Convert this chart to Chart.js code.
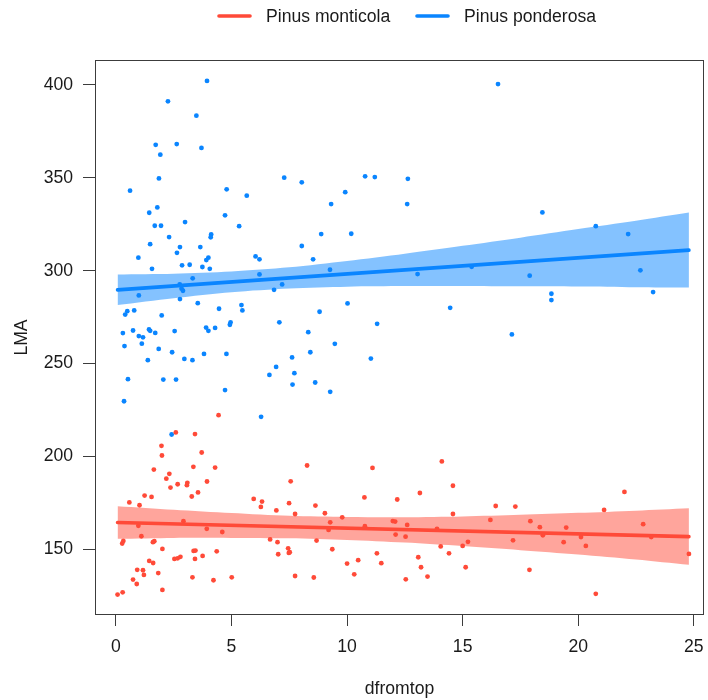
<!DOCTYPE html>
<html>
<head>
<meta charset="utf-8">
<script src="https://cdn.jsdelivr.net/npm/chart.js@4.4.1/dist/chart.umd.min.js"></script>
<style>
  body { margin: 0; background: #fff; }
  canvas { display: block; }
</style>
</head>
<body>
<canvas id="lmaChart" width="708" height="700"></canvas>
<script>
// LMA against distance from the top of the crown, two pine species
const speciesNames = ["Pinus monticola", "Pinus ponderosa"];
const xTicks = [0, 5, 10, 15, 20, 25];
const yTicks = [150, 200, 250, 300, 350, 400];

const ponderosaX = [3.94, 2.25, 3.48, 1.72, 2.63, 3.70, 1.92, 1.86, 7.28, 0.61, 4.79, 5.66, 1.79, 1.44, 4.72, 1.68,
    1.95, 2.99, 5.33, 2.30, 4.12, 4.10, 1.48, 2.77, 3.65, 2.64, 0.97, 4.00, 3.91, 6.04, 6.21, 1.56, 2.86, 3.19, 3.74,
    4.06, 6.21, 3.32, 2.76, 2.84, 2.90, 7.19, 6.84, 0.99, 2.77, 3.54, 5.43, 5.47, 4.46, 0.49, 0.40, 0.79, 1.98, 4.96,
    4.93, 7.07, 0.30, 0.74, 1.43, 1.48, 1.70, 2.54, 3.90, 4.00, 4.29, 0.99, 1.17, 1.12, 0.37, 1.85, 2.43, 3.81, 4.78,
    1.38, 2.96, 3.31, 7.62, 6.93, 7.72, 6.64, 7.64, 0.52, 2.05, 2.60, 4.72, 0.35, 6.28, 2.41, 16.53, 8.04, 10.78, 11.20,
    12.63, 9.92, 9.31, 12.60, 8.88, 10.18, 8.04, 8.53, 9.26, 15.39, 13.05, 10.02, 8.81, 14.46, 11.30, 8.32, 9.47, 8.41,
    11.03, 8.62, 9.27, 18.45, 20.76, 22.16, 17.90, 22.69, 23.24, 18.84, 18.84, 17.13];
const ponderosaY = [402.2, 391.2, 383.5, 367.8, 368.2, 366.1, 362.5, 349.7, 350.1, 343.1, 343.8, 340.4, 334.1, 331.2,
    329.8, 324.2, 324.2, 326.2, 324.0, 318.1, 319.5, 318.0, 314.3, 312.7, 312.7, 309.6, 307.0, 307.0, 305.7, 307.7,
    306.1, 301.0, 302.9, 303.2, 302.0, 301.0, 298.0, 295.9, 292.6, 290.3, 289.2, 292.6, 289.7, 286.7, 284.7, 282.5,
    281.5, 278.6, 279.5, 278.2, 276.4, 278.6, 275.9, 272.2, 270.9, 272.2, 266.4, 267.8, 268.4, 267.6, 266.5, 267.5,
    269.4, 267.6, 269.2, 264.8, 264.1, 260.7, 259.4, 257.9, 256.1, 255.2, 255.2, 251.8, 252.5, 251.8, 253.3, 248.2,
    244.8, 243.9, 238.7, 241.6, 241.4, 241.4, 235.7, 229.7, 221.3, 211.8, 400.5, 347.6, 350.8, 350.4, 349.5, 342.3,
    335.9, 335.9, 319.7, 319.9, 313.3, 306.1, 300.5, 302.1, 298.2, 282.4, 277.9, 280.0, 271.4, 266.9, 260.6, 256.1,
    252.7, 239.8, 234.8, 331.4, 324.0, 319.7, 297.3, 300.2, 288.5, 287.6, 284.2, 265.7];

const monticolaX = [4.44, 2.59, 3.42, 1.97, 1.99, 3.71, 1.64, 2.31, 3.35, 4.29, 2.18, 2.67, 2.36, 3.09, 3.07, 3.94,
    3.55, 3.28, 1.24, 1.54, 0.58, 1.02, 7.56, 5.96, 6.32, 6.27, 7.49, 6.94, 7.75, 2.92, 0.97, 1.10, 3.93, 4.60, 0.32,
    0.27, 1.60, 1.66, 2.01, 3.36, 3.44, 4.36, 3.75, 2.53, 2.67, 2.79, 3.42, 1.44, 1.61, 6.67, 6.99, 7.02, 7.45, 7.48,
    7.52, 0.92, 1.17, 1.21, 1.83, 0.74, 0.90, 3.31, 4.22, 5.01, 7.75, 2.01, 0.07, 0.29, 8.27, 11.10, 14.10, 14.58,
    10.75, 12.17, 13.15, 8.63, 9.04, 9.79, 9.27, 9.20, 10.77, 11.98, 12.08, 12.60, 12.10, 12.53, 13.89, 14.58, 16.20,
    16.43, 8.68, 9.36, 14.05, 14.41, 15.00, 15.23, 11.29, 10.00, 10.48, 11.48, 10.31, 13.08, 13.20, 13.48, 15.13,
    12.54, 8.56, 17.28, 21.12, 22.00, 17.93, 18.34, 18.47, 19.48, 22.81, 23.16, 20.12, 19.37, 20.33, 17.18, 24.79,
    17.89, 20.76];
const monticolaY = [222.2, 212.9, 212.0, 205.7, 200.5, 202.1, 192.9, 190.6, 194.4, 194.0, 188.0, 185.0, 183.2, 185.8,
    184.5, 186.5, 180.6, 178.4, 178.9, 178.2, 175.2, 173.7, 186.6, 177.1, 175.7, 172.8, 174.8, 170.9, 169.0, 165.1,
    162.6, 157.0, 161.0, 159.3, 154.5, 153.1, 153.8, 154.3, 150.2, 149.1, 149.3, 148.9, 146.4, 144.8, 145.1, 145.9,
    144.8, 143.7, 142.6, 155.3, 153.8, 147.3, 150.5, 148.0, 148.4, 138.9, 138.7, 136.2, 137.2, 133.7, 131.3, 134.9,
    133.3, 134.9, 135.6, 128.1, 125.6, 126.8, 195.1, 193.8, 197.3, 184.2, 177.9, 176.8, 180.3, 173.5, 169.4, 167.2,
    164.5, 160.4, 162.4, 165.2, 164.9, 163.1, 157.9, 156.8, 161.0, 169.0, 165.8, 173.3, 154.7, 150.0, 151.5, 147.8,
    151.8, 154.0, 147.8, 142.3, 144.1, 142.5, 136.5, 145.7, 140.3, 135.3, 140.3, 133.8, 134.8, 173.0, 171.2, 180.9,
    165.1, 161.9, 157.5, 161.7, 163.5, 156.6, 156.6, 153.8, 151.8, 154.8, 147.5, 138.9, 126.0];

// fitted lines (ends) and confidence bands
const fitX = [0.07, 24.79];
const monticolaFit = [164.4, 156.8];
const ponderosaFit = [289.7, 311.1];
const bandX = [0.07, 2.5, 5, 7.5, 10, 12.5, 15, 17.5, 20, 22.5, 24.79];
const monticolaUpper = [173.2, 171.3, 169.5, 168.0, 167.4, 167.3, 167.7, 168.6, 169.6, 170.8, 172.1];
const monticolaLower = [155.6, 156.1, 156.1, 155.9, 155.0, 153.6, 151.7, 149.5, 147.2, 144.5, 141.6];
const ponderosaUpper = [298.0, 298.4, 299.6, 301.8, 305.2, 309.1, 313.4, 317.8, 322.4, 326.9, 331.3];
const ponderosaLower = [281.5, 285.2, 288.4, 290.4, 291.4, 291.7, 291.8, 291.6, 291.5, 291.1, 290.9];

const red = "#FF4A38";
const blue = "#0A85FF";
const redBand = "rgba(255, 75, 58, 0.5)";
const blueBand = "rgba(10, 133, 255, 0.5)";
const axisColor = "#3c3c3c";
const textColor = "#1a1a1a";
const font = { family: "'Liberation Sans', Arial, sans-serif", size: 17.6 };

function zip(xs, ys) {
    return xs.map((x, i) => ({ x: x, y: ys[i] }));
}

function bandPair(upper, lower, color) {
    return [
        { type: "line", data: zip(bandX, upper), borderWidth: 0, borderColor: "transparent", pointRadius: 0,
          backgroundColor: color, fill: "+1", order: 3, tension: 0.3 },
        { type: "line", data: zip(bandX, lower), borderWidth: 0, borderColor: "transparent", pointRadius: 0,
          fill: false, order: 3, tension: 0.3 }
    ];
}

function fitLine(ys, color) {
    return { type: "line", data: zip(fitX, ys), borderColor: color, borderWidth: 3.6, borderCapStyle: "round",
             pointRadius: 0, fill: false, order: 1 };
}

function points(xs, ys, color) {
    return { type: "scatter", data: zip(xs, ys), backgroundColor: color, borderWidth: 0, pointRadius: 2.4,
             order: 2 };
}

// box round the plotting region
const boxPlugin = {
    id: "box",
    afterDatasetsDraw(chart) {
        const a = chart.chartArea;
        const ctx = chart.ctx;
        ctx.save();
        ctx.strokeStyle = axisColor;
        ctx.lineWidth = 1;
        ctx.strokeRect(Math.round(a.left) + 0.5, Math.round(a.top) + 0.5,
            Math.round(a.right - a.left) - 1, Math.round(a.bottom - a.top) - 1);
        ctx.restore();
    }
};

// key at the top: line sample followed by the species name
const keyPlugin = {
    id: "key",
    afterDraw(chart) {
        const ctx = chart.ctx;
        const items = [
            { name: speciesNames[0], color: red, x: 217 },
            { name: speciesNames[1], color: blue, x: 415 }
        ];
        ctx.save();
        ctx.font = font.size + "px " + font.family;
        ctx.textBaseline = "middle";
        ctx.fillStyle = textColor;
        items.forEach(function (item) {
            ctx.strokeStyle = item.color;
            ctx.lineWidth = 3.6;
            ctx.lineCap = "round";
            ctx.beginPath();
            ctx.moveTo(item.x + 2, 16);
            ctx.lineTo(item.x + 33, 16);
            ctx.stroke();
            ctx.fillText(item.name, item.x + 49, 17);
        });
        ctx.restore();
    }
};

const datasets = [].concat(
    bandPair(monticolaUpper, monticolaLower, redBand),
    bandPair(ponderosaUpper, ponderosaLower, blueBand),
    [points(monticolaX, monticolaY, red), points(ponderosaX, ponderosaY, blue)],
    [fitLine(monticolaFit, red), fitLine(ponderosaFit, blue)]
);

new Chart(document.getElementById("lmaChart"), {
    type: "scatter",
    data: { datasets: datasets },
    options: {
        responsive: false,
        animation: false,
        layout: { padding: { left: 0, right: 2, top: 60, bottom: 0 } },
        plugins: { legend: { display: false }, tooltip: { enabled: false } },
        scales: {
            x: {
                type: "linear",
                min: -0.906,
                max: 25.442,
                afterBuildTicks: function (scale) { scale.ticks = xTicks.map(v => ({ value: v })); },
                afterFit: function (scale) {
                    // the last label may hang past the box, as in the plot frame
                    scale.height = 85;
                    scale.paddingLeft = 0;
                    scale.paddingRight = 0;
                },
                grid: { drawOnChartArea: false, drawTicks: true, tickLength: 11, tickColor: axisColor },
                border: { display: false },
                ticks: { padding: 11, font: font, color: textColor, maxRotation: 0 },
                title: { display: true, text: "dfromtop", font: font, color: textColor, padding: { top: 0, bottom: 0 } }
            },
            y: {
                type: "linear",
                min: 114.6,
                max: 413.46,
                afterBuildTicks: function (scale) { scale.ticks = yTicks.map(v => ({ value: v })); },
                afterFit: function (scale) {
                    scale.width = 95;
                    scale.paddingTop = 0;
                    scale.paddingBottom = 0;
                },
                grid: { drawOnChartArea: false, drawTicks: true, tickLength: 12, tickColor: axisColor },
                border: { display: false },
                ticks: { padding: 10, font: font, color: textColor },
                title: { display: true, text: "LMA", font: font, color: textColor, padding: { top: 12, bottom: 0 } }
            }
        }
    },
    plugins: [boxPlugin, keyPlugin]
});
</script>
</body>
</html>
